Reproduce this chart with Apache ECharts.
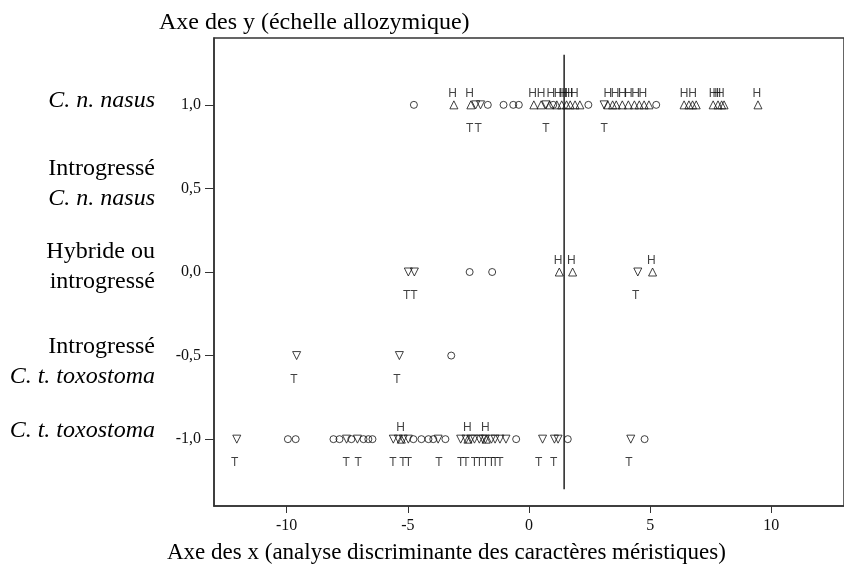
<!DOCTYPE html>
<html>
<head>
<meta charset="utf-8">
<script src="https://cdn.jsdelivr.net/npm/echarts@6/dist/echarts.min.js"></script>
<style>html,body{margin:0;padding:0;background:#fff}#c{width:844px;height:572px}</style>
</head>
<body>
<div id="c"></div>
<script>
// ---- data ----
const xTicks = [-10, -5, 0, 5, 10];
const yTicks = [-1, -0.5, 0, 0.5, 1];
const yTickLabels = ['-1,0', '-0,5', '0,0', '0,5', '1,0'];
// group captions: [axis value, text, italic]
const groupLines = [
  [1, 'C. n. nasus', true],
  [0.5, 'Introgressé', false],
  [0.5, 'C. n. nasus', true],
  [0, 'Hybride ou', false],
  [0, 'introgressé', false],
  [-0.5, 'Introgressé', false],
  [-0.5, 'C. t. toxostoma', true],
  [-1, 'C. t. toxostoma', true]
];
const refLine = [[1.45, -1.3], [1.45, 1.3]];

// row y = 1.0 (C. n. nasus)
const nasusCircleX = [-4.75, -1.7, -1.05, -0.65, -0.42, 1.0, 2.45, 5.25];
const nasusUpX = [-3.1, -2.4, 0.2, 0.5, 0.85, 1.15, 1.35, 1.55, 1.7, 1.9, 2.1, 3.25, 3.45, 3.6, 3.85, 4.1, 4.35, 4.55, 4.75, 4.95, 6.4, 6.6, 6.75, 6.9, 7.6, 7.8, 7.95, 8.05, 9.45];
const nasusDownX = [-2.2, -2.0, 0.7, 3.1];
const nasusHX = [-3.15, -2.45, 0.15, 0.5, 0.9, 1.2, 1.4, 1.52, 1.65, 1.87, 3.25, 3.55, 3.85, 4.1, 4.4, 4.7, 6.4, 6.75, 7.6, 7.75, 7.9, 9.4];
const nasusTX = [-2.45, -2.1, 0.7, 3.1];

// row y = 0.0 (hybride ou introgressé)
const hybridCircleX = [-2.45, -1.52];
const hybridUpX = [1.25, 1.8, 5.1];
const hybridDownX = [-4.98, -4.73, 4.49];
const hybridHX = [1.2, 1.75, 5.05];
const hybridTX = [-5.05, -4.75, 4.4];

// row y = -0.5 (introgressé C. t. toxostoma)
const introToxoCircleX = [-3.21];
const introToxoDownX = [-9.59, -5.35];
const introToxoTX = [-9.7, -5.45];

// row y = -1.0 (C. t. toxostoma)
const toxoCircleX = [-9.95, -9.63, -8.07, -7.82, -7.33, -6.83, -6.63, -6.46, -4.77, -4.44, -4.15, -3.95, -3.45, -0.53, 1.6, 4.77];
const toxoUpX = [-5.27, -2.52, -1.77];
const toxoDownX = [-12.06, -7.53, -7.08, -5.6, -5.39, -5.19, -4.98, -3.75, -2.82, -2.6, -2.4, -2.25, -2.05, -1.9, -1.8, -1.55, -1.4, -1.2, -0.95, 0.56, 1.05, 1.2, 4.2];
const toxoHX = [-5.3, -2.55, -1.8];
const toxoTX = [-12.15, -7.55, -7.05, -5.62, -5.2, -4.98, -3.72, -2.82, -2.6, -2.25, -2.05, -1.8, -1.55, -1.4, -1.2, 0.4, 1.02, 4.12];

// ---- layout / style (not data) ----
const groupLineOffsets = [-4, -20, 10, -20, 10, -9, 21, -8];
const serif = "'Liberation Serif', 'DejaVu Serif', serif";

// ---- build ----
const pts = (xs, y) => xs.map(x => [x, y]);
const circles = [].concat(pts(nasusCircleX, 1), pts(hybridCircleX, 0), pts(introToxoCircleX, -0.5), pts(toxoCircleX, -1));
const ups = [].concat(pts(nasusUpX, 1), pts(hybridUpX, 0), pts(toxoUpX, -1));
const downs = [].concat(pts(nasusDownX, 1), pts(hybridDownX, 0), pts(introToxoDownX, -0.5), pts(toxoDownX, -1));
const hLabels = [].concat(pts(nasusHX, 1), pts(hybridHX, 0), pts(toxoHX, -1));
const tLabels = [].concat(pts(nasusTX, 1), pts(hybridTX, 0), pts(introToxoTX, -0.5), pts(toxoTX, -1));

const markStyle = { color: 'rgba(0,0,0,0)', borderColor: '#111', borderWidth: 1 };
const letterLabel = (txt, dy) => ({
  show: true, formatter: txt, position: 'inside', offset: [0, dy],
  fontFamily: "'Liberation Sans', Arial, sans-serif", fontSize: 12, color: '#111'
});

const chart = echarts.init(document.getElementById('c'), null, { renderer: 'canvas' });
chart.setOption({
  animation: false,
  backgroundColor: '#fff',
  title: [
    { text: 'Axe des y (échelle allozymique)', left: 154, top: 6,
      textStyle: { fontFamily: serif, fontSize: 24, fontWeight: 'normal', color: '#000' } },
    { text: 'Axe des x (analyse discriminante des caractères méristiques)', left: 162, top: 536,
      textStyle: { fontFamily: serif, fontSize: 23, fontWeight: 'normal', color: '#000' } }
  ],
  grid: { left: 214, top: 38, right: 0, bottom: 66, show: true, borderColor: '#333', borderWidth: 1.5, backgroundColor: 'transparent' },
  xAxis: {
    type: 'value', min: -13, max: 13,
    axisLine: { show: true, onZero: false, lineStyle: { color: '#333', width: 1.5 } },
    axisTick: { show: true, inside: false, length: 7, customValues: xTicks, lineStyle: { color: '#333', width: 1 } },
    axisLabel: { customValues: xTicks, margin: 12, fontFamily: serif, fontSize: 16, color: '#111' },
    splitLine: { show: false }
  },
  yAxis: {
    type: 'value', min: -1.4, max: 1.4,
    axisLine: { show: true, onZero: false, lineStyle: { color: '#333', width: 1.5 } },
    axisTick: { show: true, inside: false, length: 9, customValues: yTicks, lineStyle: { color: '#333', width: 1 } },
    axisLabel: {
      customValues: yTicks, margin: 13, fontFamily: serif, fontSize: 16, color: '#111',
      formatter: v => yTickLabels[yTicks.indexOf(v)]
    },
    splitLine: { show: false }
  },
  series: [
    { type: 'line', data: refLine, symbol: 'none', silent: true, lineStyle: { color: '#222', width: 1.5 }, z: 1 },
    { type: 'scatter', data: circles, symbol: 'circle', symbolSize: 7, itemStyle: markStyle, silent: true },
    { type: 'scatter', data: ups, symbol: 'triangle', symbolSize: 8, itemStyle: markStyle, silent: true },
    { type: 'scatter', data: downs, symbol: 'triangle', symbolRotate: 180, symbolSize: 8, itemStyle: markStyle, silent: true },
    { type: 'scatter', data: hLabels, symbolSize: 0, label: letterLabel('H', -11), silent: true },
    { type: 'scatter', data: tLabels, symbolSize: 0, label: letterLabel('T', 24), silent: true }
  ]
});

// group captions, placed on the y scale
const capRight = chart.convertToPixel({ xAxisIndex: 0 }, -13) - 59;
chart.setOption({
  graphic: groupLines.map((g, i) => ({
    type: 'text', silent: true,
    x: capRight,
    y: chart.convertToPixel({ yAxisIndex: 0 }, g[0]) + groupLineOffsets[i],
    style: {
      text: g[1], align: 'right', verticalAlign: 'middle',
      font: (g[2] ? 'italic ' : '') + '24px ' + serif, fill: '#000'
    }
  }))
});
</script>
</body>
</html>
